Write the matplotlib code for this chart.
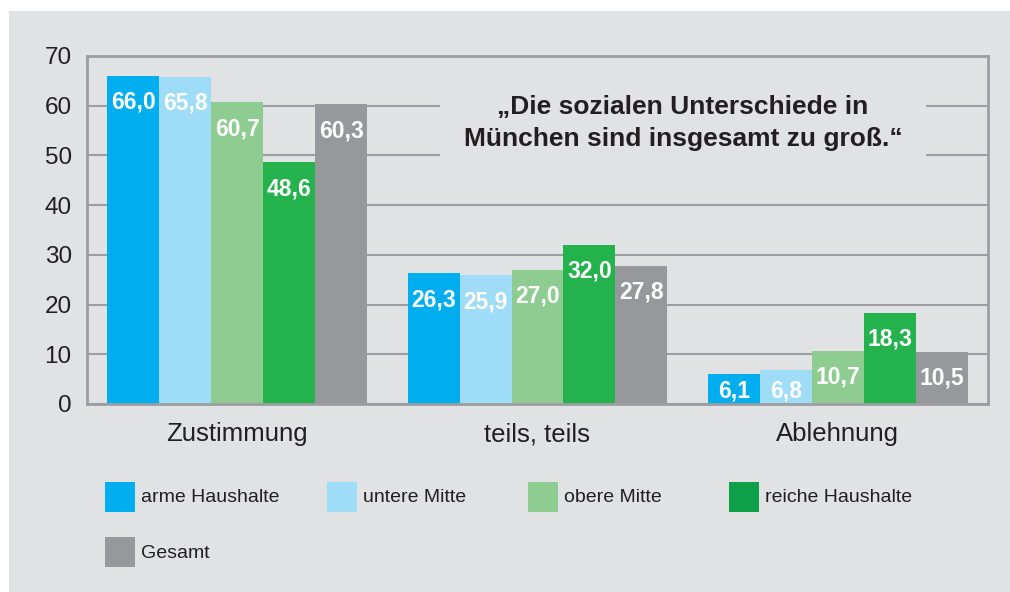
import numpy as np
import matplotlib.pyplot as plt
from matplotlib.patches import Rectangle


categories = ["Zustimmung", "teils, teils", "Ablehnung"]
groups = ["arme Haushalte", "untere Mitte", "obere Mitte", "reiche Haushalte", "Gesamt"]
arme = [66.0, 26.3, 6.1]
untere_mitte = [65.8, 25.9, 6.8]
obere_mitte = [60.7, 27.0, 10.7]
reiche = [48.6, 32.0, 18.3]
gesamt = [60.3, 27.8, 10.5]
yticks = [0, 10, 20, 30, 40, 50, 60, 70]
title = "\u201eDie sozialen Unterschiede in\nM\u00fcnchen sind insgesamt zu gro\u00df.\u201c"

series = [arme, untere_mitte, obere_mitte, reiche, gesamt]
colors = ["#00aeef", "#9fdcf8", "#8fcc92", "#23b24c", "#97989b"]
legend_colors = ["#00aeef", "#9fdcf8", "#8fcc92", "#0fa14a", "#97989b"]

BG = "#e1e2e4"
GRID = "#9d9ea1"
TEXT = "#231f20"
W, H = 1010, 592

plt.rcParams["font.family"] = ["Liberation Sans", "DejaVu Sans"]

fig = plt.figure(figsize=(W / 100, H / 100), dpi=100)
fig.patch.set_facecolor("white")
# grey panel, white margin at left/top
fig.add_artist(Rectangle((9 / W, 0), 1 - 9 / W, (H - 11) / H,
                         transform=fig.transFigure, facecolor=BG,
                         edgecolor="none", zorder=-10))

ax = fig.add_axes([87 / W, 1 - 404 / H, 901 / W, 348 / H])
ax.set_facecolor(BG)

x = np.arange(len(categories))
width = 0.173
offsets = (np.arange(len(groups)) - 2) * width

for vals, off, col in zip(series, offsets, colors):
    bars = ax.bar(x + off, vals, width, color=col, linewidth=0, zorder=2)
    for b, v in zip(bars, vals):
        label = f"{v:.1f}".replace(".", ",")
        cx = b.get_x() + b.get_width() / 2
        if v < 9:
            ax.annotate(label, (cx, 0), xytext=(0, 9.5), textcoords="offset points",
                        ha="center", va="center", color="white",
                        fontsize=16.5, fontweight="bold", zorder=3)
        else:
            ax.annotate(label, (cx, v), xytext=(0, -19), textcoords="offset points",
                        ha="center", va="center", color="white",
                        fontsize=16.5, fontweight="bold", zorder=3)

ax.set_xlim(-0.5, len(categories) - 0.5)
ax.set_ylim(0, 70)
ax.set_yticks(yticks)
ax.set_xticks(x)
ax.set_xticklabels(categories)
ax.tick_params(axis="y", length=0, pad=11, labelsize=17.5, labelcolor=TEXT)
ax.tick_params(axis="x", length=0, pad=13, labelsize=18.5, labelcolor=TEXT)

ax.set_axisbelow(True)
ax.yaxis.grid(True, color=GRID, linewidth=1.5)
for s in ax.spines.values():
    s.set_color(GRID)
    s.set_linewidth(2.0)

ax.text(0.6615, 0.8075, title, transform=ax.transAxes, ha="center", va="center",
        fontsize=19, fontweight="bold", color=TEXT, linespacing=1.45, zorder=4,
        bbox=dict(boxstyle="square,pad=0.9", facecolor=BG, edgecolor="none"))

# legend laid out like the original (4 + 1 entries)
leg_x = [105, 327, 528, 729, 105]
leg_y = [482, 482, 482, 482, 537]
for name, col, lx, ly in zip(groups, legend_colors, leg_x, leg_y):
    fig.add_artist(Rectangle((lx / W, 1 - (ly + 30) / H), 30 / W, 30 / H,
                             transform=fig.transFigure, facecolor=col,
                             edgecolor="none"))
    fig.text((lx + 36) / W, 1 - (ly + 16) / H, name, ha="left", va="center",
             fontsize=14, color=TEXT)

fig.savefig("out.png", dpi=100, facecolor=fig.get_facecolor())
